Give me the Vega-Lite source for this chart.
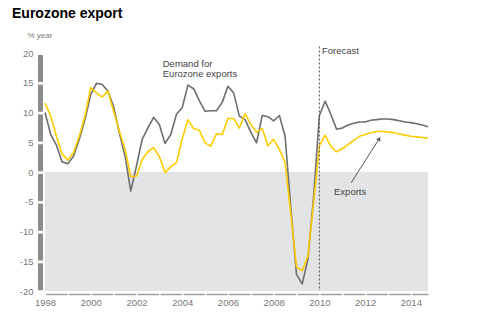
{
  "$schema": "https://vega.github.io/schema/vega-lite/v6.json",
  "width": 383,
  "height": 238,
  "autosize": "none",
  "padding": {"left": 45, "top": 53, "right": 72, "bottom": 39},
  "background": "white",
  "title": {"text": "Eurozone export", "anchor": "start", "frame": "group", "font": "Liberation Sans", "fontSize": 14, "fontWeight": "bold", "color": "#000000", "dx": -33, "dy": -6, "offset": 4},
  "config": {
    "view": {"stroke": null},
    "font": "Liberation Sans",
    "axisX": {"tickCount": 30, "format": "d", "grid": false, "ticks": false, "labelOverlap": false,
      "domainColor": "#a0a0a0", "domainWidth": 1.5, "domainDash": [21.37, 1.5], "domainDashOffset": 22.12,
      "offset": 3, "labelPadding": 3, "labelFontSize": 9.5, "labelColor": "#777777", "labelFont": "Liberation Sans", "labelFlush": false},
    "axisY": {"tickCount": 30, "labelOverlap": false, "grid": false, "ticks": false,
      "domainColor": "#8c8c8c", "domainWidth": 5, "domainDash": [27, 2.75], "domainDashOffset": 28.375,
      "offset": 5, "labelPadding": 7, "labelFontSize": 9.5, "labelColor": "#777777", "labelFont": "Liberation Sans",
      "titleAngle": 0, "titleX": -13, "titleY": -18, "titleAlign": "left", "titleBaseline": "middle", "titleFontSize": 8, "titleFontWeight": "normal", "titleColor": "#777777", "titleFont": "Liberation Sans"}
  },
  "datasets": {
    "main": [
      {"date": 1998.00, "series": "Demand", "value": 10.0},
      {"date": 1998.25, "series": "Demand", "value": 6.3},
      {"date": 1998.50, "series": "Demand", "value": 4.5},
      {"date": 1998.75, "series": "Demand", "value": 1.7},
      {"date": 1999.00, "series": "Demand", "value": 1.4},
      {"date": 1999.25, "series": "Demand", "value": 2.7},
      {"date": 1999.50, "series": "Demand", "value": 5.5},
      {"date": 1999.75, "series": "Demand", "value": 8.8},
      {"date": 2000.00, "series": "Demand", "value": 13.0},
      {"date": 2000.25, "series": "Demand", "value": 14.9},
      {"date": 2000.50, "series": "Demand", "value": 14.7},
      {"date": 2000.75, "series": "Demand", "value": 13.6},
      {"date": 2001.00, "series": "Demand", "value": 11.0},
      {"date": 2001.25, "series": "Demand", "value": 6.6},
      {"date": 2001.50, "series": "Demand", "value": 2.7},
      {"date": 2001.75, "series": "Demand", "value": -3.2},
      {"date": 2002.00, "series": "Demand", "value": 1.0},
      {"date": 2002.25, "series": "Demand", "value": 5.5},
      {"date": 2002.50, "series": "Demand", "value": 7.4},
      {"date": 2002.75, "series": "Demand", "value": 9.2},
      {"date": 2003.00, "series": "Demand", "value": 8.0},
      {"date": 2003.25, "series": "Demand", "value": 4.8},
      {"date": 2003.50, "series": "Demand", "value": 6.3},
      {"date": 2003.75, "series": "Demand", "value": 9.7},
      {"date": 2004.00, "series": "Demand", "value": 10.8},
      {"date": 2004.25, "series": "Demand", "value": 14.6},
      {"date": 2004.50, "series": "Demand", "value": 14.0},
      {"date": 2004.75, "series": "Demand", "value": 12.0},
      {"date": 2005.00, "series": "Demand", "value": 10.2},
      {"date": 2005.25, "series": "Demand", "value": 10.3},
      {"date": 2005.50, "series": "Demand", "value": 10.3},
      {"date": 2005.75, "series": "Demand", "value": 11.7},
      {"date": 2006.00, "series": "Demand", "value": 14.4},
      {"date": 2006.25, "series": "Demand", "value": 13.3},
      {"date": 2006.50, "series": "Demand", "value": 9.4},
      {"date": 2006.75, "series": "Demand", "value": 8.8},
      {"date": 2007.00, "series": "Demand", "value": 6.7},
      {"date": 2007.25, "series": "Demand", "value": 4.9},
      {"date": 2007.50, "series": "Demand", "value": 9.5},
      {"date": 2007.75, "series": "Demand", "value": 9.3},
      {"date": 2008.00, "series": "Demand", "value": 8.6},
      {"date": 2008.25, "series": "Demand", "value": 9.5},
      {"date": 2008.50, "series": "Demand", "value": 6.0},
      {"date": 2008.75, "series": "Demand", "value": -6.0},
      {"date": 2009.00, "series": "Demand", "value": -17.2},
      {"date": 2009.25, "series": "Demand", "value": -18.8},
      {"date": 2009.50, "series": "Demand", "value": -14.6},
      {"date": 2009.75, "series": "Demand", "value": -4.0},
      {"date": 2010.00, "series": "Demand", "value": 9.5},
      {"date": 2010.25, "series": "Demand", "value": 11.9},
      {"date": 2010.50, "series": "Demand", "value": 9.7},
      {"date": 2010.75, "series": "Demand", "value": 7.2},
      {"date": 2011.00, "series": "Demand", "value": 7.4},
      {"date": 2011.25, "series": "Demand", "value": 7.9},
      {"date": 2011.50, "series": "Demand", "value": 8.2},
      {"date": 2011.75, "series": "Demand", "value": 8.4},
      {"date": 2012.00, "series": "Demand", "value": 8.4},
      {"date": 2012.25, "series": "Demand", "value": 8.7},
      {"date": 2012.50, "series": "Demand", "value": 8.8},
      {"date": 2012.75, "series": "Demand", "value": 8.9},
      {"date": 2013.00, "series": "Demand", "value": 8.9},
      {"date": 2013.25, "series": "Demand", "value": 8.8},
      {"date": 2013.50, "series": "Demand", "value": 8.6},
      {"date": 2013.75, "series": "Demand", "value": 8.4},
      {"date": 2014.00, "series": "Demand", "value": 8.3},
      {"date": 2014.25, "series": "Demand", "value": 8.1},
      {"date": 2014.50, "series": "Demand", "value": 7.9},
      {"date": 2014.75, "series": "Demand", "value": 7.6},
      {"date": 1998.00, "series": "Exports", "value": 11.6},
      {"date": 1998.25, "series": "Exports", "value": 9.4},
      {"date": 1998.50, "series": "Exports", "value": 6.0},
      {"date": 1998.75, "series": "Exports", "value": 3.0},
      {"date": 1999.00, "series": "Exports", "value": 2.0},
      {"date": 1999.25, "series": "Exports", "value": 3.3},
      {"date": 1999.50, "series": "Exports", "value": 6.0},
      {"date": 1999.75, "series": "Exports", "value": 9.4},
      {"date": 2000.00, "series": "Exports", "value": 14.2},
      {"date": 2000.25, "series": "Exports", "value": 13.3},
      {"date": 2000.50, "series": "Exports", "value": 12.6},
      {"date": 2000.75, "series": "Exports", "value": 13.6},
      {"date": 2001.00, "series": "Exports", "value": 10.2},
      {"date": 2001.25, "series": "Exports", "value": 6.9},
      {"date": 2001.50, "series": "Exports", "value": 3.8},
      {"date": 2001.75, "series": "Exports", "value": -0.8},
      {"date": 2002.00, "series": "Exports", "value": -0.7},
      {"date": 2002.25, "series": "Exports", "value": 2.1},
      {"date": 2002.50, "series": "Exports", "value": 3.4},
      {"date": 2002.75, "series": "Exports", "value": 4.1},
      {"date": 2003.00, "series": "Exports", "value": 2.6},
      {"date": 2003.25, "series": "Exports", "value": -0.1},
      {"date": 2003.50, "series": "Exports", "value": 0.9},
      {"date": 2003.75, "series": "Exports", "value": 1.6},
      {"date": 2004.00, "series": "Exports", "value": 5.5},
      {"date": 2004.25, "series": "Exports", "value": 8.8},
      {"date": 2004.50, "series": "Exports", "value": 7.3},
      {"date": 2004.75, "series": "Exports", "value": 7.0},
      {"date": 2005.00, "series": "Exports", "value": 4.9},
      {"date": 2005.25, "series": "Exports", "value": 4.3},
      {"date": 2005.50, "series": "Exports", "value": 6.4},
      {"date": 2005.75, "series": "Exports", "value": 6.3},
      {"date": 2006.00, "series": "Exports", "value": 9.0},
      {"date": 2006.25, "series": "Exports", "value": 9.0},
      {"date": 2006.50, "series": "Exports", "value": 7.4},
      {"date": 2006.75, "series": "Exports", "value": 9.8},
      {"date": 2007.00, "series": "Exports", "value": 8.0},
      {"date": 2007.25, "series": "Exports", "value": 6.7},
      {"date": 2007.50, "series": "Exports", "value": 7.3},
      {"date": 2007.75, "series": "Exports", "value": 4.4},
      {"date": 2008.00, "series": "Exports", "value": 5.5},
      {"date": 2008.25, "series": "Exports", "value": 3.8},
      {"date": 2008.50, "series": "Exports", "value": 1.6},
      {"date": 2008.75, "series": "Exports", "value": -7.0},
      {"date": 2009.00, "series": "Exports", "value": -16.0},
      {"date": 2009.25, "series": "Exports", "value": -16.6},
      {"date": 2009.50, "series": "Exports", "value": -14.1},
      {"date": 2009.75, "series": "Exports", "value": -5.0},
      {"date": 2010.00, "series": "Exports", "value": 4.4},
      {"date": 2010.25, "series": "Exports", "value": 6.2},
      {"date": 2010.50, "series": "Exports", "value": 4.3},
      {"date": 2010.75, "series": "Exports", "value": 3.4},
      {"date": 2011.00, "series": "Exports", "value": 3.9},
      {"date": 2011.25, "series": "Exports", "value": 4.6},
      {"date": 2011.50, "series": "Exports", "value": 5.3},
      {"date": 2011.75, "series": "Exports", "value": 6.0},
      {"date": 2012.00, "series": "Exports", "value": 6.3},
      {"date": 2012.25, "series": "Exports", "value": 6.6},
      {"date": 2012.50, "series": "Exports", "value": 6.8},
      {"date": 2012.75, "series": "Exports", "value": 6.8},
      {"date": 2013.00, "series": "Exports", "value": 6.7},
      {"date": 2013.25, "series": "Exports", "value": 6.6},
      {"date": 2013.50, "series": "Exports", "value": 6.4},
      {"date": 2013.75, "series": "Exports", "value": 6.2},
      {"date": 2014.00, "series": "Exports", "value": 6.0},
      {"date": 2014.25, "series": "Exports", "value": 5.9},
      {"date": 2014.50, "series": "Exports", "value": 5.8},
      {"date": 2014.75, "series": "Exports", "value": 5.7}
    ]
  },
  "layer": [
    {
      "data": {"values": [{}]},
      "mark": {"type": "rect", "color": "#e2e4e5"},
      "encoding": {
        "y": {"datum": 0, "type": "quantitative", "scale": {"domain": [-20, 20], "nice": false},
          "axis": {"title": "% year", "values": [-20, -15, -10, -5, 0, 5, 10, 15, 20], "labelExpr": "toString(datum.value)", "tickCount": 30}},
        "y2": {"datum": -20}
      }
    },
    {
      "data": {"name": "main"},
      "mark": {"type": "line", "strokeWidth": 1.6, "strokeJoin": "round"},
      "encoding": {
        "x": {"field": "date", "type": "quantitative", "scale": {"domain": [1998, 2014.75], "nice": false, "zero": false},
          "axis": {"title": null, "values": [1998, 2000, 2002, 2004, 2006, 2008, 2010, 2012, 2014], "format": "d", "tickCount": 30}},
        "y": {"field": "value", "type": "quantitative", "scale": {"domain": [-20, 20], "nice": false},
          "axis": {"title": "% year", "values": [-20, -15, -10, -5, 0, 5, 10, 15, 20], "labelExpr": "toString(datum.value)", "tickCount": 30}},
        "color": {"field": "series", "type": "nominal", "sort": ["Demand", "Exports"], "scale": {"domain": ["Demand", "Exports"], "range": ["#6d6e70", "#ffcc00"]}, "legend": null},
        "order": {"field": "date"}
      }
    },
    {
      "data": {"values": [{}]},
      "mark": {"type": "rule", "color": "#555555", "strokeWidth": 1, "strokeDash": [2, 2]},
      "encoding": {"x": {"datum": 2010, "axis": {"title": null}}, "y": {"datum": 21.1, "axis": {"title": "% year"}}, "y2": {"datum": -20}}
    },
    {
      "data": {"values": [{}]},
      "mark": {"type": "text", "text": "Forecast", "align": "left", "baseline": "middle", "fontSize": 9.5, "color": "#444444"},
      "encoding": {"x": {"datum": 2010.11, "axis": {"title": null}}, "y": {"datum": 20.3, "axis": {"title": "% year"}}}
    },
    {
      "data": {"values": [{}]},
      "mark": {"type": "text", "text": ["Demand for", "Eurozone exports"], "lineHeight": 10.5, "align": "left", "baseline": "middle", "fontSize": 9.5, "color": "#444444"},
      "encoding": {"x": {"datum": 2003.15, "axis": {"title": null}}, "y": {"datum": 18.2, "axis": {"title": "% year"}}}
    },
    {
      "data": {"values": [{}]},
      "mark": {"type": "text", "text": "Exports", "align": "left", "baseline": "middle", "fontSize": 9.5, "color": "#444444"},
      "encoding": {"x": {"datum": 2010.64, "axis": {"title": null}}, "y": {"datum": -3.3, "axis": {"title": "% year"}}}
    },
    {
      "data": {"values": [{}]},
      "mark": {"type": "rule", "color": "#555555", "strokeWidth": 1},
      "encoding": {"x": {"datum": 2011.39, "axis": {"title": null}}, "y": {"datum": -1.8, "axis": {"title": "% year"}}, "x2": {"datum": 2012.62}, "y2": {"datum": 5.6}}
    },
    {
      "data": {"values": [{}]},
      "mark": {"type": "point", "shape": "triangle-up", "angle": 32, "size": 22, "filled": true, "color": "#555555", "opacity": 1},
      "encoding": {"x": {"datum": 2012.62, "axis": {"title": null}}, "y": {"datum": 5.6, "axis": {"title": "% year"}}}
    }
  ]
}
